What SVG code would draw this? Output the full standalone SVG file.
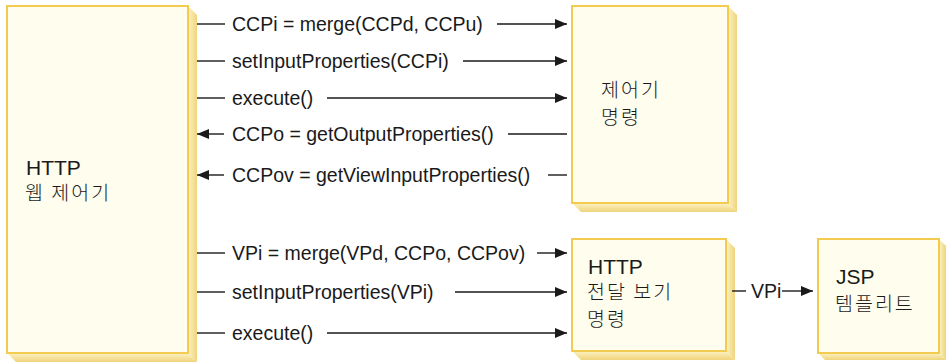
<svg xmlns="http://www.w3.org/2000/svg" width="946" height="362" viewBox="0 0 946 362">
<style>
.box{fill:#FFFDEE;stroke:#F3CB50;stroke-width:2}
.sr{fill:url(#gr)}
.sb{fill:url(#gb)}
.t{font-family:"Liberation Sans","Noto Sans CJK KR",sans-serif;font-size:19.5px;fill:#1a1a1a}
.h{font-family:"Liberation Sans","Noto Sans CJK KR",sans-serif;font-size:21px;fill:#1a1a1a}
.k{font-family:"Noto Sans CJK KR",sans-serif;font-size:19.5px;font-weight:300;fill:#1a1a1a;letter-spacing:2px}
.ln{stroke:#1a1a1a;stroke-width:1.4;fill:none}
.a{marker-end:url(#ah)}
</style>
<defs>
<linearGradient id="gr" x1="0" y1="0" x2="1" y2="0"><stop offset="0" stop-color="#FCF2C4"/><stop offset="1" stop-color="#EFD47C"/></linearGradient>
<linearGradient id="gb" x1="0" y1="0" x2="0" y2="1"><stop offset="0" stop-color="#FCF2C4"/><stop offset="1" stop-color="#EFD47C"/></linearGradient>
<marker id="ah" markerUnits="userSpaceOnUse" markerWidth="13" markerHeight="11" refX="12" refY="5" orient="auto"><path d="M0,0 L12,5 L0,10 z" fill="#1a1a1a"/></marker>
</defs>

<g id="webController">
<polygon class="sr" points="188,6 197,15 197,362 188,353"/>
<polygon class="sb" points="7,353 188,353 197,362 16,362"/>
<rect class="box" x="7" y="6" width="181" height="347"/>
<text class="h" x="26" y="175">HTTP</text>
<text class="k" x="25" y="200">웹 제어기</text>
</g>

<g id="controllerCommand">
<polygon class="sr" points="728,6 737,15 737,212 728,203"/>
<polygon class="sb" points="572,203 728,203 737,212 581,212"/>
<rect class="box" x="572" y="6" width="156" height="197"/>
<text class="k" x="601" y="97">제어기</text>
<text class="k" x="601" y="124">명령</text>
</g>

<g id="forwardViewCommand">
<polygon class="sr" points="726,239 735,248 735,360 726,351"/>
<polygon class="sb" points="572,351 726,351 735,360 581,360"/>
<rect class="box" x="572" y="239" width="154" height="112"/>
<text class="h" x="588" y="274">HTTP</text>
<text class="k" x="587" y="299">전달 보기</text>
<text class="k" x="587" y="326">명령</text>
</g>

<g id="jspTemplate">
<polygon class="sr" points="939,239 946,246 946,360 939,353"/>
<polygon class="sb" points="818,353 939,353 946,360 825,360"/>
<rect class="box" x="818" y="239" width="121" height="114"/>
<text class="h" x="836" y="284">JSP</text>
<text class="k" x="835" y="311">템플리트</text>
</g>

<g id="connectors">
<line class="ln" x1="197" y1="24" x2="225" y2="24"/>
<text class="t" x="232" y="31">CCPi = merge(CCPd, CCPu)</text>
<line class="ln a" x1="497" y1="24" x2="567" y2="24"/>

<line class="ln" x1="197" y1="61" x2="225" y2="61"/>
<text class="t" x="232" y="68">setInputProperties(CCPi)</text>
<line class="ln a" x1="463" y1="61" x2="567" y2="61"/>

<line class="ln" x1="197" y1="98" x2="225" y2="98"/>
<text class="t" x="232" y="105">execute()</text>
<line class="ln a" x1="327" y1="98" x2="567" y2="98"/>

<line class="ln a" x1="224" y1="134" x2="197" y2="134"/>
<text class="t" x="232" y="141">CCPo = getOutputProperties()</text>
<line class="ln" x1="508" y1="134" x2="567" y2="134"/>

<line class="ln a" x1="224" y1="175" x2="197" y2="175"/>
<text class="t" x="232" y="182">CCPov = getViewInputProperties()</text>
<line class="ln" x1="548" y1="175" x2="567" y2="175"/>

<line class="ln" x1="197" y1="253" x2="225" y2="253"/>
<text class="t" x="232" y="260">VPi = merge(VPd, CCPo, CCPov)</text>
<line class="ln a" x1="537" y1="253" x2="567" y2="253"/>

<line class="ln" x1="197" y1="292" x2="225" y2="292"/>
<text class="t" x="232" y="299">setInputProperties(VPi)</text>
<line class="ln a" x1="455" y1="292" x2="567" y2="292"/>

<line class="ln" x1="197" y1="333" x2="225" y2="333"/>
<text class="t" x="232" y="340">execute()</text>
<line class="ln a" x1="327" y1="333" x2="567" y2="333"/>

<line class="ln" x1="732" y1="291" x2="746" y2="291"/>
<text class="t" x="751" y="298">VPi</text>
<line class="ln a" x1="782" y1="291" x2="813" y2="291"/>
</g>
</svg>
